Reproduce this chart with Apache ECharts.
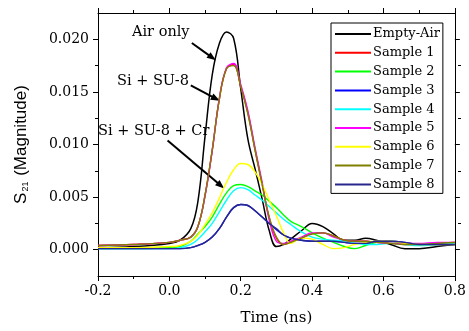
<!DOCTYPE html>
<html>
<head>
<meta charset="utf-8">
<title>S21 vs time</title>
<script src="https://cdn.jsdelivr.net/npm/echarts@6/dist/echarts.min.js"></script>
<style>
  html, body { margin: 0; padding: 0; background: #fff; }
  #chart { width: 469px; height: 331px; }
</style>
</head>
<body>
<div id="chart"></div>
<script>
// time axis (ns), shared by every curve
var time = [-0.2, -0.1, 0.0, 0.03, 0.06, 0.08, 0.10, 0.12, 0.14, 0.16, 0.18, 0.20, 0.22, 0.24, 0.26, 0.28,
            0.30, 0.32, 0.34, 0.37, 0.40, 0.43, 0.46, 0.49, 0.52, 0.55, 0.58, 0.62, 0.66, 0.70, 0.75, 0.80];

// S21 magnitude
var emptyAir = [0.0002, 0.0003, 0.0006, 0.0009, 0.0020, 0.0046, 0.0108, 0.0166, 0.0196, 0.0207, 0.0201, 0.0153, 0.0105, 0.0077, 0.0048, 0.0018,
                0.0003, 0.0005, 0.0010, 0.0018, 0.0025, 0.0022, 0.0015, 0.0009, 0.0009, 0.0011, 0.0009, 0.0005, 0.0001, 0.0001, 0.0003, 0.0005];
var sample1 = [0.0004, 0.0005, 0.0007, 0.0009, 0.0012, 0.0022, 0.0052, 0.0094, 0.0143, 0.0172, 0.0176, 0.0155, 0.0130, 0.0095, 0.0062, 0.0030,
               0.0011, 0.0005, 0.0007, 0.0011, 0.0015, 0.0016, 0.0013, 0.0009, 0.0008, 0.0008, 0.0007, 0.0006, 0.0005, 0.0005, 0.0006, 0.0007];
var sample2 = [0.0001, 0.0001, 0.0002, 0.0003, 0.0008, 0.0015, 0.0022, 0.0031, 0.0043, 0.0054, 0.0061, 0.0062, 0.0060, 0.0056, 0.0052, 0.0046,
               0.0040, 0.0033, 0.0027, 0.0022, 0.0016, 0.0011, 0.0007, 0.0003, 0.0001, 0.0004, 0.0007, 0.0008, 0.0006, 0.0005, 0.0005, 0.0006];
var sample3 = [0.0001, 0.0001, 0.0001, 0.0001, 0.0002, 0.0004, 0.0007, 0.0012, 0.0020, 0.0031, 0.0040, 0.0043, 0.0042, 0.0037, 0.0031, 0.0025,
               0.0019, 0.0014, 0.0011, 0.0009, 0.0008, 0.0008, 0.0008, 0.0007, 0.0006, 0.0006, 0.0008, 0.0008, 0.0007, 0.0005, 0.0005, 0.0005];
var sample4 = [0.0001, 0.0001, 0.0001, 0.0002, 0.0005, 0.0010, 0.0017, 0.0025, 0.0036, 0.0047, 0.0056, 0.0059, 0.0057, 0.0052, 0.0047, 0.0041,
               0.0035, 0.0029, 0.0024, 0.0017, 0.0012, 0.0010, 0.0009, 0.0008, 0.0006, 0.0005, 0.0005, 0.0006, 0.0005, 0.0004, 0.0005, 0.0006];
var sample5 = [0.0004, 0.0005, 0.0007, 0.0009, 0.0012, 0.0022, 0.0051, 0.0094, 0.0144, 0.0173, 0.0177, 0.0157, 0.0132, 0.0097, 0.0064, 0.0028,
               0.0008, 0.0006, 0.0008, 0.0012, 0.0016, 0.0016, 0.0012, 0.0009, 0.0008, 0.0008, 0.0007, 0.0006, 0.0006, 0.0006, 0.0007, 0.0007];
var sample6 = [0.0002, 0.0002, 0.0003, 0.0004, 0.0008, 0.0014, 0.0024, 0.0035, 0.0049, 0.0064, 0.0076, 0.0082, 0.0081, 0.0074, 0.0062, 0.0047,
               0.0032, 0.0016, 0.0006, 0.0011, 0.0010, 0.0005, 0.0001, 0.0002, 0.0005, 0.0007, 0.0008, 0.0008, 0.0006, 0.0005, 0.0005, 0.0005];
var sample7 = [0.0004, 0.0005, 0.0007, 0.0009, 0.0012, 0.0022, 0.0052, 0.0095, 0.0143, 0.0172, 0.0175, 0.0155, 0.0129, 0.0095, 0.0062, 0.0031,
               0.0012, 0.0005, 0.0007, 0.0011, 0.0015, 0.0016, 0.0013, 0.0009, 0.0008, 0.0008, 0.0007, 0.0006, 0.0005, 0.0005, 0.0006, 0.0007];
var sample8 = [0.0001, 0.0001, 0.0001, 0.0001, 0.0002, 0.0004, 0.0007, 0.0012, 0.0020, 0.0031, 0.0040, 0.0043, 0.0042, 0.0037, 0.0031, 0.0025,
               0.0020, 0.0014, 0.0011, 0.0009, 0.0008, 0.0008, 0.0008, 0.0007, 0.0006, 0.0006, 0.0008, 0.0008, 0.0007, 0.0005, 0.0005, 0.0005];

var names  = ['Empty-Air', 'Sample 1', 'Sample 2', 'Sample 3', 'Sample 4', 'Sample 5', 'Sample 6', 'Sample 7', 'Sample 8'];
var values = [emptyAir, sample1, sample2, sample3, sample4, sample5, sample6, sample7, sample8];
var colors = ['#000000', '#ff0000', '#00ff00', '#0000ff', '#00ffff', '#ff00ff', '#ffff00', '#808000', '#28288c'];

// tick positions on the magnitude axis
var yMajor = [0, 0.005, 0.010, 0.015, 0.020];
var yMinor = [0.0025, 0.0075, 0.0125, 0.0175];

// annotation arrows, [from, to] in data units
var arrows = [
  [[0.063, 0.01965], [0.120, 0.01826]],
  [[0.060, 0.01562], [0.130, 0.01435]],
  [[-0.005, 0.01038], [0.144, 0.0061]]
];

var serif = 'DejaVu Serif';
var chart = echarts.init(document.getElementById('chart'));

function xAx(grid, pos, withLabels, hidden) {
  return {
    type: 'value', gridIndex: grid, position: pos, show: !hidden,
    min: -0.2, max: 0.8, interval: 0.2,
    axisLine: { onZero: false, lineStyle: { color: '#000', width: 1 } },
    axisTick: { show: true, inside: false, length: 5, lineStyle: { color: '#000' } },
    minorTick: { show: true, splitNumber: 2, length: 3, lineStyle: { color: '#000' } },
    splitLine: { show: false },
    axisLabel: { show: withLabels, color: '#000', fontFamily: serif, fontSize: 14, margin: 8,
                 formatter: function (v) { return v.toFixed(1); } },
    name: withLabels ? 'Time (ns)' : '',
    nameLocation: 'middle', nameGap: 35,
    nameTextStyle: { color: '#000', fontFamily: serif, fontSize: 15 }
  };
}

function yAx(grid, pos, ticks, len, withLabels, showLine) {
  return {
    type: 'value', gridIndex: grid, position: pos,
    min: -0.0025, max: 0.0225, interval: 0.0025,
    axisLine: { show: showLine, onZero: false, lineStyle: { color: '#000', width: 1 } },
    axisTick: { show: true, inside: false, length: len, customValues: ticks, lineStyle: { color: '#000' } },
    splitLine: { show: false },
    axisLabel: { show: withLabels, customValues: yMajor, color: '#000', fontFamily: serif, fontSize: 14, margin: 9,
                 formatter: function (v) { return v.toFixed(3); } },
    name: withLabels ? '{s|S}{sub|21}{s| (Magnitude)}' : '',
    nameLocation: 'middle', nameGap: 68,
    nameTextStyle: {
      color: '#000',
      rich: {
        s: { fontFamily: 'Liberation Sans', fontSize: 17, color: '#000' },
        sub: { fontFamily: 'Liberation Sans', fontSize: 9, color: '#000', verticalAlign: 'bottom', padding: [8, 1, 0, 1] }
      }
    }
  };
}

var series = names.map(function (name, i) {
  return {
    name: name,
    type: 'line',
    xAxisIndex: 0, yAxisIndex: 0,
    data: time.map(function (t, j) { return [t, values[i][j]]; }),
    smooth: 0.4,
    symbol: 'none',
    lineStyle: { color: colors[i], width: i === 0 ? 1.5 : 1.4 },
    itemStyle: { color: colors[i] },
    z: 2 + i
  };
});

// arrows drawn as mark lines in data space
series.push({
  name: 'arrows', type: 'line', data: [], xAxisIndex: 0, yAxisIndex: 0, silent: true, z: 20,
  markLine: {
    silent: true, animation: false,
    symbol: ['none', 'triangle'], symbolSize: [7, 9],
    label: { show: false },
    lineStyle: { color: '#000', width: 2, type: 'solid' },
    emphasis: { disabled: true },
    data: arrows.map(function (a) {
      return [{ coord: a[0] }, { coord: a[1] }];
    })
  }
});

var option = {
  animation: false,
  backgroundColor: '#fff',
  grid: [
    { left: 98, right: 11, top: 13, bottom: 55, containLabel: false },
    { left: 98, right: 11, top: 13, bottom: 55, containLabel: false }
  ],
  xAxis: [
    xAx(0, 'bottom', true, false),
    xAx(0, 'top', false, false),
    xAx(1, 'bottom', false, true)
  ],
  yAxis: [
    yAx(0, 'left', yMajor, 5, true, true),
    yAx(0, 'right', yMajor, 5, false, true),
    yAx(1, 'left', yMinor, 3, false, false),
    yAx(1, 'right', yMinor, 3, false, false)
  ],
  legend: {
    data: names,
    orient: 'vertical',
    left: 331, top: 23,
    padding: [4, 3, 2, 4],
    icon: 'rect',
    itemWidth: 36, itemHeight: 2, itemGap: 4.8,
    backgroundColor: '#fff',
    borderColor: '#000', borderWidth: 1, borderRadius: 0,
    selectedMode: false,
    textStyle: { color: '#000', fontFamily: serif, fontSize: 13, lineHeight: 14, padding: [0, 0, 0, -3] }
  },
  graphic: [
    { type: 'text', left: 132, top: 25, z: 100, style: { text: 'Air only', font: '14.5px "DejaVu Serif"', fill: '#000' } },
    { type: 'text', left: 117, top: 74, z: 100, style: { text: 'Si + SU-8', font: '14.5px "DejaVu Serif"', fill: '#000' } },
    { type: 'text', left: 98, top: 124, z: 100, style: { text: 'Si + SU-8 + Cr', font: '14.5px "DejaVu Serif"', fill: '#000' } }
  ],
  series: series
};

chart.setOption(option);
</script>
</body>
</html>
